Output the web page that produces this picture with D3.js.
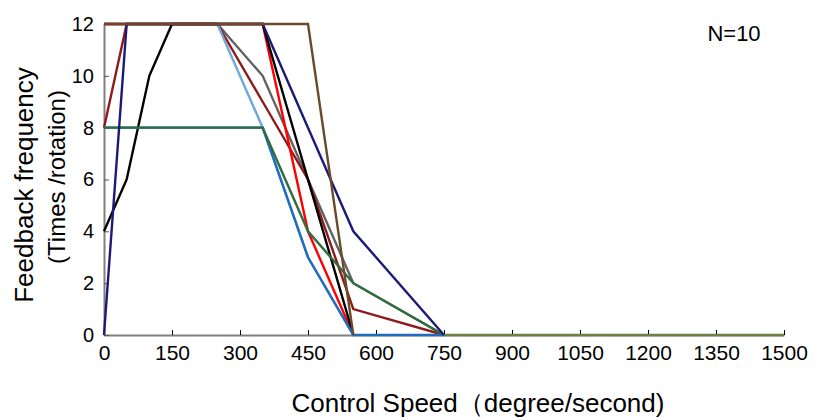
<!DOCTYPE html>
<html>
<head>
<meta charset="utf-8">
<script src="https://cdn.jsdelivr.net/npm/d3@7"></script>
<style>
  body { margin: 0; background: #fff; }
  text { font-family: "Liberation Sans", Arial, sans-serif; fill: #000; }
</style>
</head>
<body>
<div id="chart"></div>
<script>
// speeds (degree/second) and per-subject feedback counts
// null = that subject's line stops before this speed
const speeds = [0, 50, 100, 150, 250, 350, 450, 550, 750];
const xTicks = [0, 150, 300, 450, 600, 750, 900, 1050, 1200, 1350, 1500];
const yTicks = [0, 2, 4, 6, 8, 10, 12];

const gray      = [12, 12, 12, 12, 12, 10, 6, 2, 0];
const darkRed   = [8, 12, 12, 12, 12, 9, 6, 1, 0];
const lightBlue = [12, 12, 12, 12, 12, 8, 3, 0, null];
const red       = [12, 12, 12, 12, 12, 12, 4, 0, null];
const black     = [4, 6, 10, 12, 12, 12, 6, 0, null];
const blue      = [8, 8, 8, 8, 8, 8, 3, 0, 0];
const green     = [8, 8, 8, 8, 8, 8, 4, 2, 0];
const navy      = [0, 12, 12, 12, 12, 12, 8, 4, 0];
const brown     = [12, 12, 12, 12, 12, 12, 12, 0, null];
// tail beyond 750 where every subject sits at zero
const tailSpeeds = [750, 1500];
const tail      = [0, 0];

const series = [
  { name: 'gray', values: gray, color: '#626262' },
  { name: 'darkRed', values: darkRed, color: '#8e1b1b' },
  { name: 'lightBlue', values: lightBlue, color: '#6fa8dc' },
  { name: 'red', values: red, color: '#ff0000' },
  { name: 'black', values: black, color: '#000000' },
  { name: 'blue', values: blue, color: '#1f6cc0' },
  { name: 'green', values: green, color: '#2e6e3e' },
  { name: 'navy', values: navy, color: '#1c1a78' },
  { name: 'brown', values: brown, color: '#6b4a2b' }
];

const cfg = {
  width: 819,
  height: 420,
  margin: { top: 24, right: 35, bottom: 85, left: 104 }
};

const svg = d3.select('#chart').append('svg')
  .attr('width', cfg.width)
  .attr('height', cfg.height);

const x = d3.scaleLinear()
  .domain([0, 1500])
  .range([cfg.margin.left, cfg.width - cfg.margin.right]);

const y = d3.scaleLinear()
  .domain([0, 12])
  .range([cfg.height - cfg.margin.bottom, cfg.margin.top]);

// axes with inward ticks
const xAxis = svg.append('g')
  .attr('transform', `translate(0,${y(0)})`)
  .call(d3.axisBottom(x).tickValues(xTicks).tickFormat(d3.format('d'))
    .tickSizeInner(-5).tickSizeOuter(0).tickPadding(10));
xAxis.select('.domain').attr('stroke', '#808080').attr('stroke-width', 2);
xAxis.selectAll('.tick line').attr('stroke', '#000');
xAxis.selectAll('.tick text').attr('font-size', 21);

const yAxis = svg.append('g')
  .attr('transform', `translate(${x(0)},0)`)
  .call(d3.axisLeft(y).tickValues(yTicks).tickSizeInner(-5).tickSizeOuter(0).tickPadding(10));
yAxis.select('.domain').attr('stroke', '#808080').attr('stroke-width', 2);
yAxis.selectAll('.tick line').attr('stroke', '#555');
yAxis.selectAll('.tick text').attr('font-size', 20);

svg.selectAll('g').attr('font-family', null);

const line = d3.line()
  .defined(d => d[1] !== null)
  .x(d => x(d[0]))
  .y(d => y(d[1]));

svg.append('path')
  .datum(tailSpeeds.map((s, i) => [s, tail[i]]))
  .attr('fill', 'none')
  .attr('stroke', '#6e7d4a')
  .attr('stroke-width', 2.4)
  .attr('d', line);

for (const s of series) {
  svg.append('path')
    .datum(speeds.map((sp, i) => [sp, s.values[i]]))
    .attr('fill', 'none')
    .attr('stroke', s.color)
    .attr('stroke-width', 2.4)
    .attr('d', line);
}

// N label
svg.append('text')
  .attr('x', 734)
  .attr('y', 41)
  .attr('text-anchor', 'middle')
  .attr('font-size', 22)
  .text('N=10');

// X axis title
svg.append('text')
  .attr('x', 478)
  .attr('y', 412)
  .attr('text-anchor', 'middle')
  .attr('font-size', 26)
  .text('Control Speed（degree/second)');

// Y axis title, two lines
svg.append('text')
  .attr('transform', 'translate(33,185) rotate(-90)')
  .attr('text-anchor', 'middle')
  .attr('font-size', 26)
  .text('Feedback frequency');
svg.append('text')
  .attr('transform', 'translate(65,177) rotate(-90)')
  .attr('text-anchor', 'middle')
  .attr('font-size', 24)
  .text('(Times /rotation)');
</script>
</body>
</html>
